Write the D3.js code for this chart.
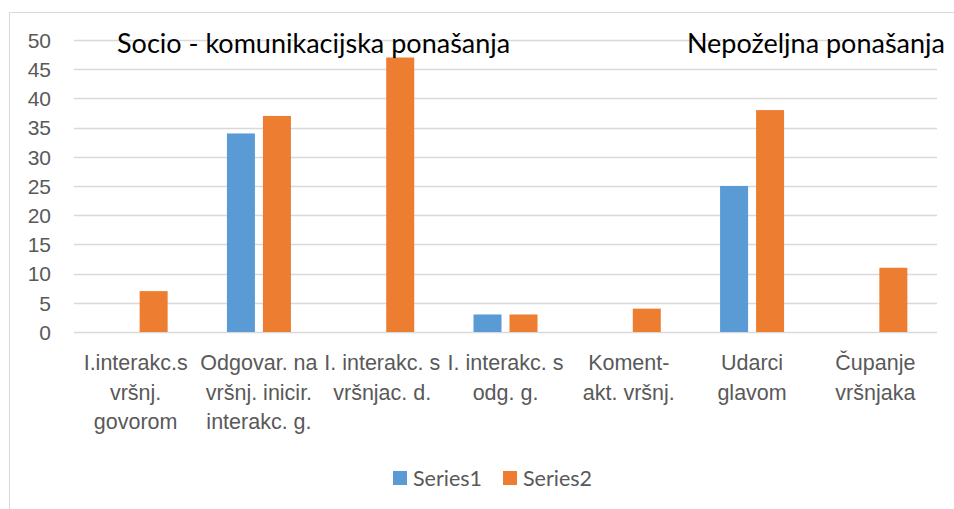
<!DOCTYPE html>
<html>
<head>
<meta charset="utf-8">
<script src="https://cdn.jsdelivr.net/npm/d3@7"></script>
<style>
  body { margin: 0; background: #fff; }
  svg { display: block; font-family: Lato, "Open Sans", sans-serif; }
  .domain { display: none; }
</style>
</head>
<body>
<svg id="chart" width="954" height="509"></svg>
<script>
// category labels, one entry per line
const categories = [
  ['I.interakc.s', 'vršnj.', 'govorom'],
  ['Odgovar. na', 'vršnj. inicir.', 'interakc. g.'],
  ['I. interakc. s', 'vršnjac. d.'],
  ['I. interakc. s', 'odg. g.'],
  ['Koment-', 'akt. vršnj.'],
  ['Udarci', 'glavom'],
  ['Čupanje', 'vršnjaka']
];
const series1 = [0, 34, 0, 3, 0, 25, 0];
const series2 = [7, 37, 47, 3, 4, 38, 11];
const seriesNames = ['Series1', 'Series2'];
const yTicks = [0, 5, 10, 15, 20, 25, 30, 35, 40, 45, 50];
const titles = ['Socio - komunikacijska ponašanja', 'Nepoželjna ponašanja'];

const colors = ['#5b9bd5', '#ed7d31'];
const svg = d3.select('#chart');

// outer chart border (runs off the right/bottom edge)
svg.append('rect')
  .attr('x', 9.5).attr('y', 12.5)
  .attr('width', 960).attr('height', 520)
  .attr('fill', 'none')
  .attr('stroke', '#d9d9d9');

const margin = { top: 40, left: 74, right: 17, bottom: 177 };
const width = 954 - margin.left - margin.right;
const height = 509 - margin.top - margin.bottom;

const g = svg.append('g')
  .attr('transform', `translate(${margin.left},${margin.top})`);

const idx = categories.map((d, i) => i);
const x = d3.scaleBand().domain(idx).range([0, width]).paddingInner(0).paddingOuter(0);
const y = d3.scaleLinear().domain([0, 50]).range([height, 0]);

// gridlines
g.append('g')
  .selectAll('line')
  .data(yTicks)
  .enter()
  .append('line')
  .attr('x1', 0).attr('x2', width)
  .attr('y1', d => Math.round(y(d)) + 0.5)
  .attr('y2', d => Math.round(y(d)) + 0.5)
  .attr('stroke', '#d9d9d9')
  .attr('stroke-width', 1.3);

// y axis
const yAxis = g.append('g')
  .call(d3.axisLeft(y).tickValues(yTicks).tickSize(0).tickPadding(23));
yAxis.selectAll('text')
  .attr('fill', '#595959')
  .style('font-size', '21px')
  .attr('dy', '0.35em');

// bars
const barW = 28;
const gap = 8;
const data = idx.map(i => ({ i, values: [series1[i], series2[i]] }));
const groups = g.selectAll('.grp')
  .data(data)
  .enter()
  .append('g')
  .attr('class', 'grp')
  .attr('transform', d => `translate(${x(d.i) + x.bandwidth() / 2},0)`);

groups.selectAll('rect')
  .data(d => d.values.map((v, s) => ({ v, s })).filter(e => e.v > 0))
  .enter()
  .append('rect')
  .attr('x', d => d.s === 0 ? -gap / 2 - barW : gap / 2)
  .attr('y', d => y(d.v))
  .attr('width', barW)
  .attr('height', d => height - y(d.v))
  .attr('fill', d => colors[d.s]);

// x axis labels
const xAxis = g.append('g')
  .attr('transform', `translate(0,${height})`)
  .call(d3.axisBottom(x).tickSize(0).tickFormat(''));

xAxis.selectAll('.tick').each(function (i) {
  const t = d3.select(this).append('text')
    .attr('fill', '#595959')
    .attr('text-anchor', 'middle')
    .style('font-size', '21.5px');
  categories[i].forEach((line, k) => {
    t.append('tspan')
      .attr('x', 0)
      .attr('y', 38 + k * 29.5)
      .text(line);
  });
});

// titles overlaid on the plot
svg.append('text')
  .attr('x', 117).attr('y', 53)
  .attr('fill', '#000')
  .style('font-size', '27px')
  .text(titles[0]);
svg.append('text')
  .attr('x', 945).attr('y', 53)
  .attr('text-anchor', 'end')
  .attr('fill', '#000')
  .style('font-size', '27px')
  .text(titles[1]);

// legend
const legend = svg.append('g').attr('transform', 'translate(393,478)');
const legendX = [0, 110];
seriesNames.forEach((name, s) => {
  const lg = legend.append('g').attr('transform', `translate(${legendX[s]},0)`);
  lg.append('rect')
    .attr('x', 0).attr('y', -7)
    .attr('width', 14).attr('height', 14)
    .attr('fill', colors[s]);
  lg.append('text')
    .attr('x', 20).attr('y', 0)
    .attr('dy', '0.35em')
    .attr('fill', '#595959')
    .style('font-size', '21.5px')
    .text(name);
});
</script>
</body>
</html>
